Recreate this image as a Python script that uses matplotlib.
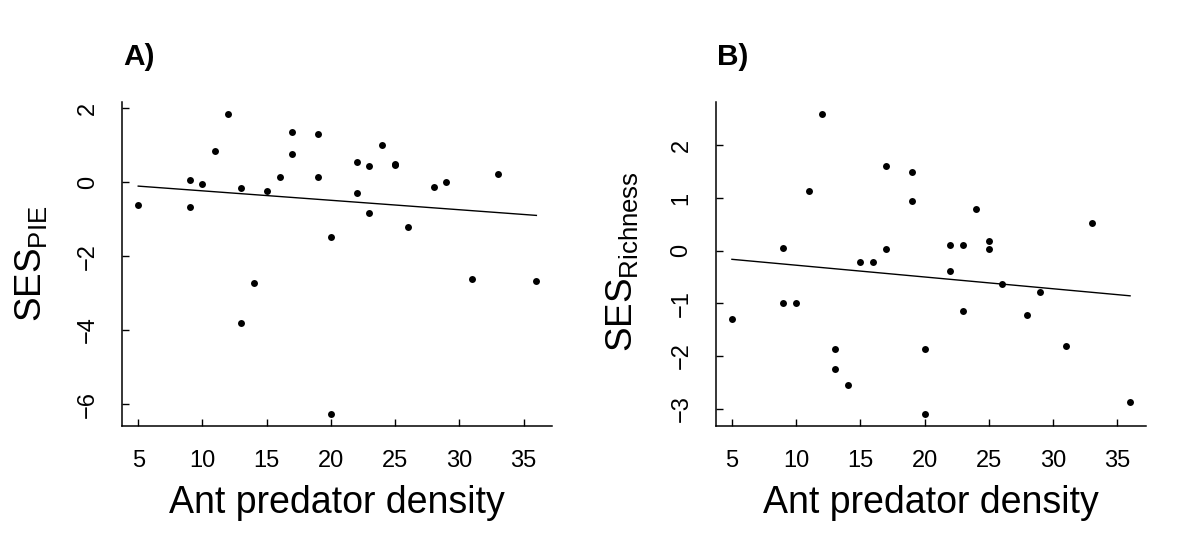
import matplotlib
matplotlib.use("Agg")
import matplotlib.pyplot as plt
import numpy as np

plt.rcParams['font.family'] = ['Liberation Sans', 'DejaVu Sans']
plt.rcParams['mathtext.fontset'] = 'custom'
plt.rcParams['mathtext.rm'] = 'Liberation Sans'
plt.rcParams['mathtext.it'] = 'Liberation Sans:italic'
plt.rcParams['mathtext.bf'] = 'Liberation Sans:bold'

# ---- data ----
density = [5, 9, 9, 10, 11, 12, 13, 13, 14, 15, 16, 17, 17, 19, 19, 20, 20,
           22, 22, 23, 23, 24, 25, 25, 26, 28, 29, 31, 33, 36]
ses_pie = [-0.63, 0.045, -0.68, -0.054, 0.83, 1.85, -0.16, -3.82, -2.74, -0.25,
           0.126, 1.35, 0.75, 1.29, 0.135, -1.48, -6.27, 0.55, -0.29, 0.43,
           -0.83, 1.0, 0.50, 0.47, -1.2, -0.135, 0.01, -2.63, 0.216, -2.68]
ses_rich = [-1.29, 0.044, -1.0, -1.0, 1.13, 2.60, -1.87, -2.25, -2.55, -0.22,
            -0.21, 1.61, 0.025, 1.49, 0.94, -1.87, -3.10, 0.11, -0.385, 0.11,
            -1.14, 0.79, 0.18, 0.025, -0.64, -1.23, -0.79, -1.81, 0.53, -2.88]
fit_pie = (0.0198, -0.02555)    # intercept, slope
fit_rich = (-0.0522, -0.02235)

x_ticks = [5, 10, 15, 20, 25, 30, 35]
y_ticks_pie = [-6, -4, -2, 0, 2]
y_ticks_rich = [-3, -2, -1, 0, 1, 2]

W, H = 1192, 540
fig = plt.figure(figsize=(W / 100, H / 100), dpi=100)
fig.patch.set_facecolor('white')


def rlim(v):
    lo, hi = min(v), max(v)
    r = hi - lo
    return lo - 0.04 * r, hi + 0.04 * r


def panel(left_px, y, fit, yticks, title, ylabel, ylab_xy):
    ax = fig.add_axes([left_px / W, 1 - 426 / H, 430 / W, (426 - 101.7) / H])
    ax.scatter(density, y, s=25, color='black', zorder=3, linewidths=0)
    xs = np.array([min(density), max(density)], dtype=float)
    ax.plot(xs, fit[0] + fit[1] * xs, color='black', lw=1.0)
    ax.set_xlim(*rlim(density))
    ax.set_ylim(*rlim(y))
    ax.set_xticks(x_ticks)
    ax.set_yticks(yticks)
    ax.set_yticklabels([str(t).replace('-', '\u2212') for t in yticks],
                       rotation=90, va='center')
    ax.set_xticklabels([str(t) for t in x_ticks])
    ax.tick_params(direction='in', length=5, width=1.0, labelsize=17,
                   colors='black')
    ax.tick_params(axis='x', pad=17)
    ax.tick_params(axis='y', pad=17)
    for s in ['top', 'right']:
        ax.spines[s].set_visible(False)
    for s in ['left', 'bottom']:
        ax.spines[s].set_linewidth(1.1)
    cx = left_px + 215
    fig.text(cx / W, 1 - 512.7 / H, 'Ant predator density', ha='center',
             va='baseline', fontsize=27)
    fig.text((left_px + 1) / W, 1 - 65 / H, title, ha='left', va='baseline',
             fontsize=21.5, fontweight='bold')
    fig.text(ylab_xy[0] / W, 1 - ylab_xy[1] / H, ylabel, rotation=90,
             ha='center', va='center', fontsize=26.5)
    return ax


panel(122.3, ses_pie, fit_pie, y_ticks_pie, 'A)',
      r'SES$_{\mathrm{PIE}}$', (31, 264))
panel(716, ses_rich, fit_rich, y_ticks_rich, 'B)',
      r'SES$_{\mathrm{Richness}}$', (622, 262))

fig.savefig('out.png', dpi=100, facecolor='white')
